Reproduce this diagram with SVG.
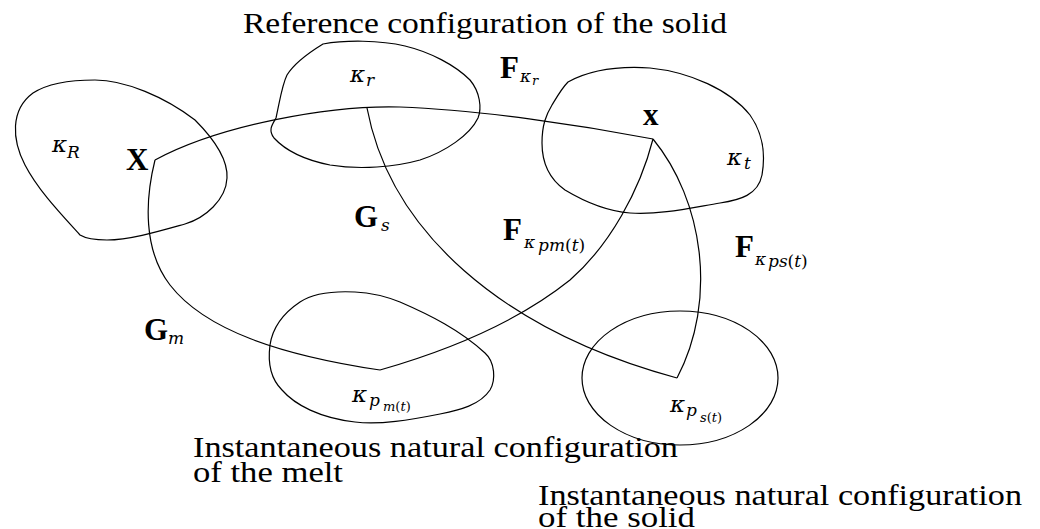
<svg xmlns="http://www.w3.org/2000/svg" width="1040" height="529" viewBox="0 0 1040 529">
<style>
.s{fill:none;stroke:#000;stroke-width:1.2;stroke-linejoin:round}
text{font-family:"Liberation Serif","Times New Roman",serif;fill:#000}
.t{font-size:30px}
.b{font-weight:bold;font-size:31px}
.k{font-family:"DejaVu Serif",serif;font-style:italic;font-size:23px}
.s1{font-family:"DejaVu Serif",serif;font-style:italic;font-size:17px}
.s2{font-family:"DejaVu Serif",serif;font-style:italic;font-size:13px}
.u{font-style:normal}
</style>
<rect width="1040" height="529" fill="#fff"/>
<g id="kappaR">
<path class="s" d="M80,235 C60,213 38,190 25,165 C12,140 10,110 33,93 C50,82 75,80 95,80 C125,80 165,97 195,120 C215,140 228,160 227,178 C226,200 205,218 185,224 C160,231 130,240 107,240 C95,240 85,238 80,235 Z"/>
<text class="k" x="52" y="152">κ</text><text class="s1" x="67" y="158">R</text>
<text class="b" x="126" y="170">X</text>
</g>
<g id="kappar">
<path class="s" d="M323,44 C345,40 380,40 405,46 C430,52 455,65 470,80 C480,92 482,108 478,118 C470,135 445,152 420,160 C395,167 360,170 330,165 C305,160 285,150 274,138 C268,130 272,125 276,118 C280,100 282,85 287,75 C295,62 310,52 323,44 Z"/>
<text class="k" x="350" y="82">κ</text><text class="s1" x="366" y="86">r</text>
</g>
<g id="kappat">
<path class="s" d="M568,82 C590,70 620,66 650,68 C690,72 730,90 750,115 C762,132 766,152 762,175 C758,195 740,200 720,203 C690,208 660,215 630,213 C605,211 585,202 565,190 C548,178 542,160 542,143 C542,125 546,115 552,105 C558,95 562,88 568,82 Z"/>
<text class="b" x="643" y="125">x</text>
<text class="k" x="727" y="165">κ</text><text class="s1" x="744" y="169">t</text>
</g>
<g id="kappapm">
<path class="s" d="M300,302 C315,292 335,291 355,292 C375,293 390,298 400,302 C430,315 460,330 485,353 C495,362 496,380 490,390 C480,405 460,410 440,414 C410,420 380,425 355,422 C320,418 295,405 282,390 C270,378 268,360 270,345 C273,325 285,312 300,302 Z"/>
<text class="k" x="352" y="402">κ</text><text class="s1" x="369" y="406">p</text><text class="s2" x="383" y="411">m<tspan class="u">(</tspan>t<tspan class="u">)</tspan></text>
</g>
<g id="kappaps">
<ellipse class="s" cx="680" cy="378" rx="98" ry="67"/>
<text class="k" x="670" y="412">κ</text><text class="s1" x="686" y="416">p</text><text class="s2" x="700" y="422">s<tspan class="u">(</tspan>t<tspan class="u">)</tspan></text>
</g>
<g id="connectors">
<path class="s" d="M155,160 C220,125 330,105 400,107 C480,110 580,125 653,139"/>
<path class="s" d="M155,160 C145,200 143,250 170,285 C205,330 280,355 380,370"/>
<path class="s" d="M380,370 C450,350 520,320 570,280 C610,245 640,190 653,139"/>
<path class="s" d="M367,108 C390,230 500,330 677,378"/>
<path class="s" d="M653,139 C703,200 718,300 677,378"/>
</g>
<g id="labels">
<text class="b" x="500" y="78">F</text><text class="s1" x="520" y="82">κ</text><text class="s2" x="532" y="85">r</text>
<text class="b" x="354" y="227">G</text><text class="s1" x="381" y="231">s</text>
<text class="b" x="503" y="240">F</text><text class="s1" x="524" y="248">κ</text><text class="s1" x="538" y="251">pm<tspan class="u">(</tspan>t<tspan class="u">)</tspan></text>
<text class="b" x="735" y="257">F</text><text class="s1" x="755" y="265">κ</text><text class="s1" x="768" y="267">ps<tspan class="u">(</tspan>t<tspan class="u">)</tspan></text>
<text class="b" x="144" y="340">G</text><text class="s1" x="168" y="344">m</text>
<text class="t" x="243" y="33" textLength="484" lengthAdjust="spacingAndGlyphs">Reference configuration of the solid</text>
<text class="t" x="193" y="457" textLength="485" lengthAdjust="spacingAndGlyphs">Instantaneous natural configuration</text>
<text class="t" x="193" y="482" textLength="150" lengthAdjust="spacingAndGlyphs">of the melt</text>
<text class="t" x="538" y="505" textLength="484" lengthAdjust="spacingAndGlyphs">Instantaneous natural configuration</text>
<text class="t" x="538" y="527" textLength="157" lengthAdjust="spacingAndGlyphs">of the solid</text>
</g>
</svg>
